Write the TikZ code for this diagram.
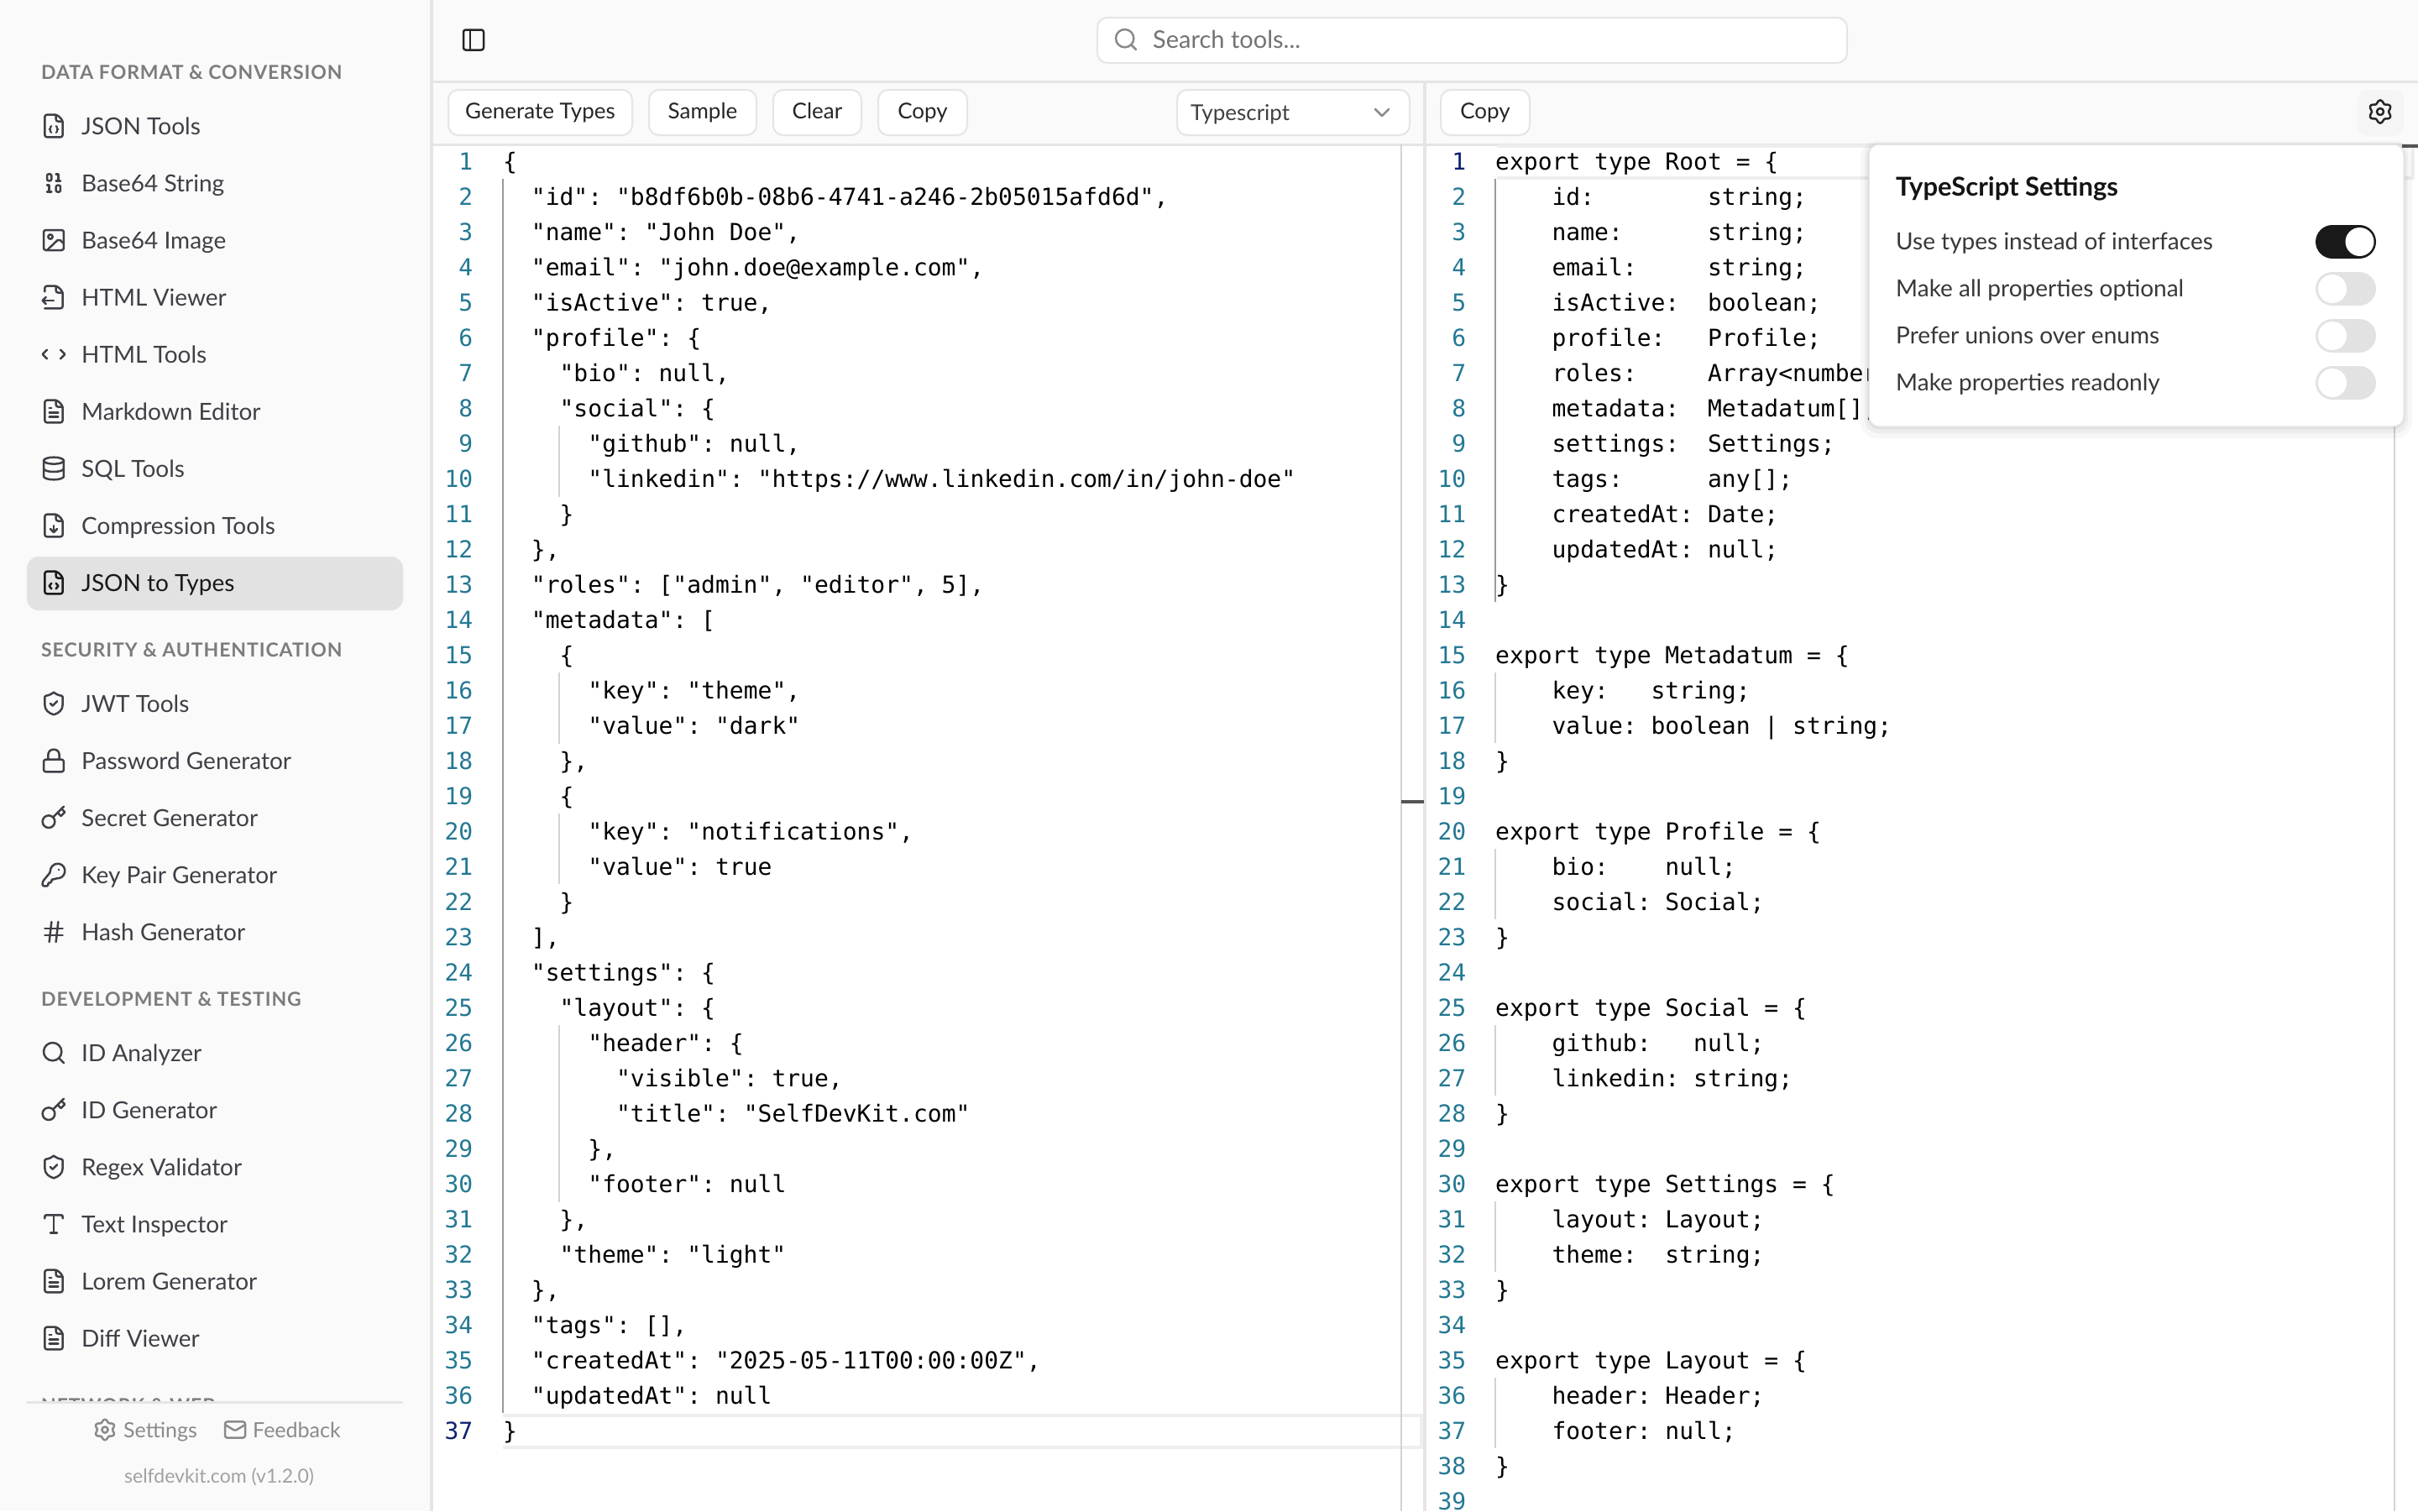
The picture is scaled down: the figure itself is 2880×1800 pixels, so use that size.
\documentclass[tikz,border=0pt]{standalone}
\usepackage{fontspec}
\usepackage{xcolor}
\setmainfont{Lato}
\newfontfamily\codefont{DejaVu Sans Mono}
\definecolor{panelbg}{HTML}{FAFAFA}
\definecolor{edgegray}{HTML}{E5E5E7}
\definecolor{itemgray}{HTML}{3F3F46}
\definecolor{headgray}{HTML}{7C7C7C}
\definecolor{footgray}{HTML}{8A8A8A}
\definecolor{numblue}{HTML}{237893}
\definecolor{numnavy}{HTML}{0B216F}
\definecolor{guidedark}{HTML}{9A9A9A}
\definecolor{guidelight}{HTML}{D3D3D3}
\definecolor{bandgray}{HTML}{EEEEEE}
\definecolor{offgray}{HTML}{E2E2E2}
\newcommand{\fileoutline}{
    \draw[rounded corners=2.67pt] (15,2) -- (4,2) -- (4,22) -- (20,22) -- (20,7) -- cycle;
    \draw[rounded corners=2.67pt] (14,2) -- (14,8) -- (20,8);
}
\tikzset{
    icon/.style={x=1.333pt,y=-1.333pt,shift={(-12,-12)},line width=2.5pt,line cap=round,line join=round},
    itemtext/.style={anchor=base west,inner sep=0pt,text=itemgray,font=\fontsize{28}{30}\selectfont},
    headtext/.style={anchor=base west,inner sep=0pt,text=headgray,font=\fontsize{23}{26}\selectfont\bfseries\addfontfeature{LetterSpace=4}},
    foottext/.style={anchor=base west,inner sep=0pt,text=footgray,font=\fontsize{25}{28}\selectfont},
    btn/.style={draw=edgegray,line width=2pt,fill=white,rounded corners=12pt,inner sep=0pt,minimum height=54pt,text height=19pt,text depth=5pt,text=black!85,font=\fontsize{26}{28}\selectfont},
    lnum/.style={anchor=base east,inner sep=0pt,text=numblue,font=\codefont\fontsize{28}{30}\selectfont},
    code/.style={anchor=base west,inner sep=0pt,text=black,font=\codefont\fontsize{28}{30}\selectfont\frenchspacing},
    poptext/.style={anchor=base west,inner sep=0pt,text=black!78,font=\fontsize{28}{30}\selectfont},
    filejson/.pic={\begin{scope}[icon]
        \fileoutline
        \draw[line width=2pt] (10,12) -- (9,13) -- (9,14.5) -- (8,15) -- (9,15.5) -- (9,17) -- (10,18);
        \draw[line width=2pt] (14,12) -- (15,13) -- (15,14.5) -- (16,15) -- (15,15.5) -- (15,17) -- (14,18);
    \end{scope}},
    filecode/.pic={\begin{scope}[icon]
        \fileoutline
        \draw (10,12.5) -- (8,15) -- (10,17.5);
        \draw (14,12.5) -- (16,15) -- (14,17.5);
    \end{scope}},
    filetext/.pic={\begin{scope}[icon]
        \fileoutline
        \draw (10,9) -- (8,9);
        \draw (16,13) -- (8,13);
        \draw (16,17) -- (8,17);
    \end{scope}},
    filedown/.pic={\begin{scope}[icon]
        \fileoutline
        \draw (12,12) -- (12,18);
        \draw (9,15) -- (12,18) -- (15,15);
    \end{scope}},
    fileback/.pic={\begin{scope}[icon]
        \draw[rounded corners=2.67pt] (4,7) -- (4,2) -- (15,2) -- (20,7) -- (20,22) -- (4,22);
        \draw[rounded corners=2.67pt] (14,2) -- (14,8) -- (20,8);
        \draw (12,15) -- (2,15);
        \draw (5,12) -- (2,15) -- (5,18);
    \end{scope}},
    binaryicon/.pic={\begin{scope}[icon]
        \draw[rounded corners=2pt] (14,14) rectangle (18,20);
        \draw[rounded corners=2pt] (6,4) rectangle (10,10);
        \draw (6,20) -- (10,20);
        \draw (14,10) -- (18,10);
        \draw (6,14) -- (8,14) -- (8,20);
        \draw (14,4) -- (16,4) -- (16,10);
    \end{scope}},
    imageicon/.pic={\begin{scope}[icon]
        \draw[rounded corners=2.67pt] (3,3) rectangle (21,21);
        \draw (9,9) circle[radius=2];
        \draw[rounded corners=2pt] (21,15) -- (16.5,11) -- (6,21);
    \end{scope}},
    codeicon/.pic={\begin{scope}[icon]
        \draw (18,16) -- (22,12) -- (18,8);
        \draw (6,8) -- (2,12) -- (6,16);
    \end{scope}},
    dbicon/.pic={\begin{scope}[icon]
        \draw (12,5) ellipse[x radius=9,y radius=3];
        \draw (3,5) -- (3,19) .. controls (3,20.7) and (7,22) .. (12,22) .. controls (17,22) and (21,20.7) .. (21,19) -- (21,5);
        \draw (3,12) .. controls (3,13.7) and (7,15) .. (12,15) .. controls (17,15) and (21,13.7) .. (21,12);
    \end{scope}},
    shieldicon/.pic={\begin{scope}[icon]
        \draw (20,13) .. controls (20,18) and (16.5,20.5) .. (12,22) .. controls (7.5,20.5) and (4,18) .. (4,13) -- (4,6) .. controls (4,5.4) and (4.4,5) .. (5,5) .. controls (7,5) and (9.5,3.8) .. (12,2) .. controls (14.5,3.8) and (17,5) .. (19,5) .. controls (19.6,5) and (20,5.4) .. (20,6) -- cycle;
        \draw (9,12) -- (11,14) -- (15,10);
    \end{scope}},
    lockicon/.pic={\begin{scope}[icon]
        \draw[rounded corners=2.67pt] (3,11) rectangle (21,22);
        \draw (7,11) -- (7,7) .. controls (7,4) and (9,2) .. (12,2) .. controls (15,2) and (17,4) .. (17,7) -- (17,11);
    \end{scope}},
    keyicon/.pic={\begin{scope}[icon]
        \draw (7.5,15.5) circle[radius=5.5];
        \draw (21,2) -- (11.4,11.6);
        \draw (15.5,7.5) -- (18.5,10.5) -- (22,7) -- (19,4);
    \end{scope}},
    keyround/.pic={\begin{scope}[icon]
        \draw[rounded corners=1.3pt] (2.6,17.4) -- (2,19) -- (2,22) -- (7,22) -- (7,19) -- (10,19) -- (10,16) -- (13,16) -- (14.4,14.9) arc[start angle=260,end angle=549,radius=8.67pt] -- cycle;
        \fill (16.5,7.5) circle[radius=1];
    \end{scope}},
    hashicon/.pic={\begin{scope}[icon]
        \draw (4,9) -- (20,9);
        \draw (4,15) -- (20,15);
        \draw (10,3) -- (8,21);
        \draw (16,3) -- (14,21);
    \end{scope}},
    typeicon/.pic={\begin{scope}[icon]
        \draw (12,4) -- (12,20);
        \draw[rounded corners=1.3pt] (4,7) -- (4,4) -- (20,4) -- (20,7);
        \draw (9,20) -- (15,20);
    \end{scope}},
    searchicon/.pic={\begin{scope}[icon]
        \draw (11,11) circle[radius=8];
        \draw (21,21) -- (16.66,16.66);
    \end{scope}},
    gearicon/.pic={\begin{scope}[icon]
        \draw plot[smooth cycle,domain=0:352,samples=45] ({12+(8.9-1.35*cos(6*\x))*cos(\x)},{12+(8.9-1.35*cos(6*\x))*sin(\x)});
        \draw (12,12) circle[radius=3];
    \end{scope}},
    mailicon/.pic={\begin{scope}[icon]
        \draw[rounded corners=2.67pt] (2,4) rectangle (22,20);
        \draw[rounded corners=1.5pt] (22,7) -- (12,13) -- (2,7);
    \end{scope}},
    panelicon/.pic={\begin{scope}[icon]
        \draw[rounded corners=2.67pt] (3,3) rectangle (21,21);
        \draw (9,3) -- (9,21);
    \end{scope}},
    chevronicon/.pic={\begin{scope}[icon]
        \draw (6,9) -- (12,15) -- (18,9);
    \end{scope}},
}
\begin{document}
\begin{tikzpicture}[x=1pt,y=-1pt]
    \useasboundingbox (0,0) rectangle (2880,1800);
    \fill[panelbg] (0,0) rectangle (2880,1800);
    % editor panes and borders
    \fill[white] (516,172) rectangle (2880,1800);
    \draw[edgegray,line width=4pt] (514,0) -- (514,1800);
    \draw[edgegray,line width=3pt] (516,97) -- (2880,97);
    \draw[edgegray,line width=3pt] (516,172) -- (2880,172);
    \draw[edgegray,line width=4pt] (1697,97) -- (1697,1800);
    % sidebar
    \fill[offgray] (32,663) [rounded corners=14pt] rectangle (480,727);
    \node[headtext] (headdata) at (49,94.5) {DATA FORMAT \& CONVERSION};
    \pic[color=itemgray] at (64,150) {filejson};
    \node[itemtext] (jsontools) at (97,160.5) {JSON Tools};
    \pic[color=itemgray] at (64,218) {binaryicon};
    \node[itemtext] (basestring) at (97,228.5) {Base64 String};
    \pic[color=itemgray] at (64,286) {imageicon};
    \node[itemtext] (baseimage) at (97,296.5) {Base64 Image};
    \pic[color=itemgray] at (64,354) {fileback};
    \node[itemtext] (htmlviewer) at (97,364.5) {HTML Viewer};
    \pic[color=itemgray] at (64,422) {codeicon};
    \node[itemtext] (htmltools) at (97,432.5) {HTML Tools};
    \pic[color=itemgray] at (64,490) {filetext};
    \node[itemtext] (markdown) at (97,500.5) {Markdown Editor};
    \pic[color=itemgray] at (64,558) {dbicon};
    \node[itemtext] (sqltools) at (97,568.5) {SQL Tools};
    \pic[color=itemgray] at (64,626) {filedown};
    \node[itemtext] (compression) at (97,636.5) {Compression Tools};
    \pic[color=black!90] at (64,694) {filecode};
    \node[itemtext,text=black!90] (jsontypes) at (97,704.5) {JSON to Types};
    \node[headtext] (headsecurity) at (49,782.5) {SECURITY \& AUTHENTICATION};
    \pic[color=itemgray] at (64,838) {shieldicon};
    \node[itemtext] (jwttools) at (97,848.5) {JWT Tools};
    \pic[color=itemgray] at (64,906) {lockicon};
    \node[itemtext] (password) at (97,916.5) {Password Generator};
    \pic[color=itemgray] at (64,974) {keyicon};
    \node[itemtext] (secret) at (97,984.5) {Secret Generator};
    \pic[color=itemgray] at (64,1042) {keyround};
    \node[itemtext] (keypair) at (97,1052.5) {Key Pair Generator};
    \pic[color=itemgray] at (64,1110) {hashicon};
    \node[itemtext] (hashgen) at (97,1120.5) {Hash Generator};
    \node[headtext] (headdev) at (49,1198.5) {DEVELOPMENT \& TESTING};
    \pic[color=itemgray] at (64,1254) {searchicon};
    \node[itemtext] (idanalyzer) at (97,1264.5) {ID Analyzer};
    \pic[color=itemgray] at (64,1322) {keyicon};
    \node[itemtext] (idgen) at (97,1332.5) {ID Generator};
    \pic[color=itemgray] at (64,1390) {shieldicon};
    \node[itemtext] (regex) at (97,1400.5) {Regex Validator};
    \pic[color=itemgray] at (64,1458) {typeicon};
    \node[itemtext] (inspector) at (97,1468.5) {Text Inspector};
    \pic[color=itemgray] at (64,1526) {filetext};
    \node[itemtext] (lorem) at (97,1536.5) {Lorem Generator};
    \pic[color=itemgray] at (64,1594) {filetext};
    \node[itemtext] (diffviewer) at (97,1604.5) {Diff Viewer};
    \begin{scope}
        \clip (32,1640) rectangle (480,1669);
        \node[headtext] (headnet) at (49,1682.5) {NETWORK \& WEB};
    \end{scope}
    \draw[edgegray,line width=3pt] (32,1670) -- (480,1670);
    \pic[color=footgray,scale=.9] at (125,1703) {gearicon};
    \node[foottext] (settingslink) at (147,1712) {Settings};
    \pic[color=footgray,scale=.9] at (280,1703) {mailicon};
    \node[foottext] (feedbacklink) at (301,1712) {Feedback};
    \node[foottext,text=footgray!80,font=\fontsize{23}{26}\selectfont] (version) at (148,1766) {selfdevkit.com (v1.2.0)};
    % top bar
    \pic[color=black!85] at (564,47.5) {panelicon};
    \node[btn,minimum width=893pt,minimum height=54pt] (searchbox) at (1753.5,48) {};
    \pic[color=footgray] at (1341,47) {searchicon};
    \node[foottext,text=black!55,font=\fontsize{29}{30}\selectfont] (searchtext) at (1373,57) {Search tools...};
    % left toolbar
    \node[btn,minimum width=219pt] (genbtn) at (643.5,134) {Generate Types};
    \node[btn,minimum width=128pt] (samplebtn) at (837,134) {Sample};
    \node[btn,minimum width=105pt] (clearbtn) at (973.5,134) {Clear};
    \node[btn,minimum width=106pt] (copybtn) at (1099,134) {Copy};
    \node[btn,minimum width=277pt] (langselect) at (1540.5,134) {};
    \node[foottext,text=black!75,font=\fontsize{26}{28}\selectfont] (langtext) at (1418,143) {Typescript};
    \pic[color=footgray] at (1646,134) {chevronicon};
    % right toolbar
    \node[btn,minimum width=106pt] (copyright) at (1769,134) {Copy};
    \fill[black!4,rounded corners=12pt] (2808,107) rectangle (2863,162);
    \pic[color=black!85] at (2835,133) {gearicon};
    % current line bands, rulers and guides
    \draw[bandgray,line width=4pt] (599,1686) -- (1693,1686) -- (1693,1724) -- (599,1724);
    \draw[bandgray,line width=4pt] (1783,174) -- (2874,174) -- (2874,212) -- (1783,212);
    \draw[guidelight,line width=2pt] (1669,172) -- (1669,1800);
    \draw[black!67,line width=4pt] (1669,955) -- (1696,955);
    \draw[guidelight,line width=2pt] (2852,172) -- (2852,1800);
    \draw[black!67,line width=4pt] (2861,174) -- (2880,174);
    \draw[guidedark,line width=2.5pt] (599,213) -- (599,1683);
    \draw[guidelight,line width=2.5pt] (666,507) -- (666,592);
    \draw[guidelight,line width=2.5pt] (666,801) -- (666,886);
    \draw[guidelight,line width=2.5pt] (666,969) -- (666,1053);
    \draw[guidelight,line width=2.5pt] (666,1221) -- (666,1432);
    \draw[guidedark,line width=2.5pt] (1781,213) -- (1781,717);
    \draw[guidelight,line width=2pt] (1781,801) -- (1781,885);
    \draw[guidelight,line width=2pt] (1781,1011) -- (1781,1095);
    \draw[guidelight,line width=2pt] (1781,1221) -- (1781,1305);
    \draw[guidelight,line width=2pt] (1781,1431) -- (1781,1515);
    \draw[guidelight,line width=2pt] (1781,1641) -- (1781,1725);
    % left editor
    \node[lnum] (lnum1) at (563.5,202.5) {1};
    \node[code] (lcode1) at (599,202.5) {\{};
    \node[lnum] (lnum2) at (563.5,244.5) {2};
    \node[code] (lcode2) at (632.7,244.5) {"id": "b8df6b0b-08b6-4741-a246-2b05015afd6d",};
    \node[lnum] (lnum3) at (563.5,286.5) {3};
    \node[code] (lcode3) at (632.7,286.5) {"name": "John Doe",};
    \node[lnum] (lnum4) at (563.5,328.5) {4};
    \node[code] (lcode4) at (632.7,328.5) {"email": "john.doe@example.com",};
    \node[lnum] (lnum5) at (563.5,370.5) {5};
    \node[code] (lcode5) at (632.7,370.5) {"isActive": true,};
    \node[lnum] (lnum6) at (563.5,412.5) {6};
    \node[code] (lcode6) at (632.7,412.5) {"profile": \{};
    \node[lnum] (lnum7) at (563.5,454.5) {7};
    \node[code] (lcode7) at (666.4,454.5) {"bio": null,};
    \node[lnum] (lnum8) at (563.5,496.5) {8};
    \node[code] (lcode8) at (666.4,496.5) {"social": \{};
    \node[lnum] (lnum9) at (563.5,538.5) {9};
    \node[code] (lcode9) at (700.2,538.5) {"github": null,};
    \node[lnum] (lnum10) at (563.5,580.5) {10};
    \node[code] (lcode10) at (700.2,580.5) {"linkedin": "https://www.linkedin.com/in/john-doe"};
    \node[lnum] (lnum11) at (563.5,622.5) {11};
    \node[code] (lcode11) at (666.4,622.5) {\}};
    \node[lnum] (lnum12) at (563.5,664.5) {12};
    \node[code] (lcode12) at (632.7,664.5) {\},};
    \node[lnum] (lnum13) at (563.5,706.5) {13};
    \node[code] (lcode13) at (632.7,706.5) {"roles": ["admin", "editor", 5],};
    \node[lnum] (lnum14) at (563.5,748.5) {14};
    \node[code] (lcode14) at (632.7,748.5) {"metadata": [};
    \node[lnum] (lnum15) at (563.5,790.5) {15};
    \node[code] (lcode15) at (666.4,790.5) {\{};
    \node[lnum] (lnum16) at (563.5,832.5) {16};
    \node[code] (lcode16) at (700.2,832.5) {"key": "theme",};
    \node[lnum] (lnum17) at (563.5,874.5) {17};
    \node[code] (lcode17) at (700.2,874.5) {"value": "dark"};
    \node[lnum] (lnum18) at (563.5,916.5) {18};
    \node[code] (lcode18) at (666.4,916.5) {\},};
    \node[lnum] (lnum19) at (563.5,958.5) {19};
    \node[code] (lcode19) at (666.4,958.5) {\{};
    \node[lnum] (lnum20) at (563.5,1000.5) {20};
    \node[code] (lcode20) at (700.2,1000.5) {"key": "notifications",};
    \node[lnum] (lnum21) at (563.5,1042.5) {21};
    \node[code] (lcode21) at (700.2,1042.5) {"value": true};
    \node[lnum] (lnum22) at (563.5,1084.5) {22};
    \node[code] (lcode22) at (666.4,1084.5) {\}};
    \node[lnum] (lnum23) at (563.5,1126.5) {23};
    \node[code] (lcode23) at (632.7,1126.5) {],};
    \node[lnum] (lnum24) at (563.5,1168.5) {24};
    \node[code] (lcode24) at (632.7,1168.5) {"settings": \{};
    \node[lnum] (lnum25) at (563.5,1210.5) {25};
    \node[code] (lcode25) at (666.4,1210.5) {"layout": \{};
    \node[lnum] (lnum26) at (563.5,1252.5) {26};
    \node[code] (lcode26) at (700.2,1252.5) {"header": \{};
    \node[lnum] (lnum27) at (563.5,1294.5) {27};
    \node[code] (lcode27) at (733.9,1294.5) {"visible": true,};
    \node[lnum] (lnum28) at (563.5,1336.5) {28};
    \node[code] (lcode28) at (733.9,1336.5) {"title": "SelfDevKit.com"};
    \node[lnum] (lnum29) at (563.5,1378.5) {29};
    \node[code] (lcode29) at (700.2,1378.5) {\},};
    \node[lnum] (lnum30) at (563.5,1420.5) {30};
    \node[code] (lcode30) at (700.2,1420.5) {"footer": null};
    \node[lnum] (lnum31) at (563.5,1462.5) {31};
    \node[code] (lcode31) at (666.4,1462.5) {\},};
    \node[lnum] (lnum32) at (563.5,1504.5) {32};
    \node[code] (lcode32) at (666.4,1504.5) {"theme": "light"};
    \node[lnum] (lnum33) at (563.5,1546.5) {33};
    \node[code] (lcode33) at (632.7,1546.5) {\},};
    \node[lnum] (lnum34) at (563.5,1588.5) {34};
    \node[code] (lcode34) at (632.7,1588.5) {"tags": [],};
    \node[lnum] (lnum35) at (563.5,1630.5) {35};
    \node[code] (lcode35) at (632.7,1630.5) {"createdAt": "2025-05-11T00:00:00Z",};
    \node[lnum] (lnum36) at (563.5,1672.5) {36};
    \node[code] (lcode36) at (632.7,1672.5) {"updatedAt": null};
    \node[lnum,text=numnavy] (lnum37) at (563.5,1714.5) {37};
    \node[code] (lcode37) at (599,1714.5) {\}};
    % right editor
    \node[lnum,text=numnavy] (rnum1) at (1746.5,202.5) {1};
    \node[code] (rcode1) at (1781,202.5) {export type Root = \{};
    \node[lnum] (rnum2) at (1746.5,244.5) {2};
    \node[code] (rcode2) at (1848.4,244.5) {id:~~~~~~~~string;};
    \node[lnum] (rnum3) at (1746.5,286.5) {3};
    \node[code] (rcode3) at (1848.4,286.5) {name:~~~~~~string;};
    \node[lnum] (rnum4) at (1746.5,328.5) {4};
    \node[code] (rcode4) at (1848.4,328.5) {email:~~~~~string;};
    \node[lnum] (rnum5) at (1746.5,370.5) {5};
    \node[code] (rcode5) at (1848.4,370.5) {isActive:~~boolean;};
    \node[lnum] (rnum6) at (1746.5,412.5) {6};
    \node[code] (rcode6) at (1848.4,412.5) {profile:~~~Profile;};
    \node[lnum] (rnum7) at (1746.5,454.5) {7};
    \node[code] (rcode7) at (1848.4,454.5) {roles:~~~~~Array<number};
    \node[lnum] (rnum8) at (1746.5,496.5) {8};
    \node[code] (rcode8) at (1848.4,496.5) {metadata:~~Metadatum[];};
    \node[lnum] (rnum9) at (1746.5,538.5) {9};
    \node[code] (rcode9) at (1848.4,538.5) {settings:~~Settings;};
    \node[lnum] (rnum10) at (1746.5,580.5) {10};
    \node[code] (rcode10) at (1848.4,580.5) {tags:~~~~~~any[];};
    \node[lnum] (rnum11) at (1746.5,622.5) {11};
    \node[code] (rcode11) at (1848.4,622.5) {createdAt: Date;};
    \node[lnum] (rnum12) at (1746.5,664.5) {12};
    \node[code] (rcode12) at (1848.4,664.5) {updatedAt: null;};
    \node[lnum] (rnum13) at (1746.5,706.5) {13};
    \node[code] (rcode13) at (1781,706.5) {\}};
    \node[lnum] (rnum14) at (1746.5,748.5) {14};
    \node[lnum] (rnum15) at (1746.5,790.5) {15};
    \node[code] (rcode15) at (1781,790.5) {export type Metadatum = \{};
    \node[lnum] (rnum16) at (1746.5,832.5) {16};
    \node[code] (rcode16) at (1848.4,832.5) {key:~~~string;};
    \node[lnum] (rnum17) at (1746.5,874.5) {17};
    \node[code] (rcode17) at (1848.4,874.5) {value: boolean | string;};
    \node[lnum] (rnum18) at (1746.5,916.5) {18};
    \node[code] (rcode18) at (1781,916.5) {\}};
    \node[lnum] (rnum19) at (1746.5,958.5) {19};
    \node[lnum] (rnum20) at (1746.5,1000.5) {20};
    \node[code] (rcode20) at (1781,1000.5) {export type Profile = \{};
    \node[lnum] (rnum21) at (1746.5,1042.5) {21};
    \node[code] (rcode21) at (1848.4,1042.5) {bio:~~~~null;};
    \node[lnum] (rnum22) at (1746.5,1084.5) {22};
    \node[code] (rcode22) at (1848.4,1084.5) {social: Social;};
    \node[lnum] (rnum23) at (1746.5,1126.5) {23};
    \node[code] (rcode23) at (1781,1126.5) {\}};
    \node[lnum] (rnum24) at (1746.5,1168.5) {24};
    \node[lnum] (rnum25) at (1746.5,1210.5) {25};
    \node[code] (rcode25) at (1781,1210.5) {export type Social = \{};
    \node[lnum] (rnum26) at (1746.5,1252.5) {26};
    \node[code] (rcode26) at (1848.4,1252.5) {github:~~~null;};
    \node[lnum] (rnum27) at (1746.5,1294.5) {27};
    \node[code] (rcode27) at (1848.4,1294.5) {linkedin: string;};
    \node[lnum] (rnum28) at (1746.5,1336.5) {28};
    \node[code] (rcode28) at (1781,1336.5) {\}};
    \node[lnum] (rnum29) at (1746.5,1378.5) {29};
    \node[lnum] (rnum30) at (1746.5,1420.5) {30};
    \node[code] (rcode30) at (1781,1420.5) {export type Settings = \{};
    \node[lnum] (rnum31) at (1746.5,1462.5) {31};
    \node[code] (rcode31) at (1848.4,1462.5) {layout: Layout;};
    \node[lnum] (rnum32) at (1746.5,1504.5) {32};
    \node[code] (rcode32) at (1848.4,1504.5) {theme:~~string;};
    \node[lnum] (rnum33) at (1746.5,1546.5) {33};
    \node[code] (rcode33) at (1781,1546.5) {\}};
    \node[lnum] (rnum34) at (1746.5,1588.5) {34};
    \node[lnum] (rnum35) at (1746.5,1630.5) {35};
    \node[code] (rcode35) at (1781,1630.5) {export type Layout = \{};
    \node[lnum] (rnum36) at (1746.5,1672.5) {36};
    \node[code] (rcode36) at (1848.4,1672.5) {header: Header;};
    \node[lnum] (rnum37) at (1746.5,1714.5) {37};
    \node[code] (rcode37) at (1848.4,1714.5) {footer: null;};
    \node[lnum] (rnum38) at (1746.5,1756.5) {38};
    \node[code] (rcode38) at (1781,1756.5) {\}};
    \node[lnum] (rnum39) at (1746.5,1798.5) {39};
    % settings popover
    \fill[black,opacity=.03,rounded corners=20pt] (2216,168) rectangle (2873,522);
    \fill[black,opacity=.04,rounded corners=16pt] (2221,170) rectangle (2868,516);
    \fill[black,opacity=.05,rounded corners=14pt] (2224,172) rectangle (2865,511);
    \filldraw[draw=edgegray,fill=white,rounded corners=12pt,line width=1.5pt] (2226,172) rectangle (2863,508);
    \node[poptext,text=black!92,font=\fontsize{31}{34}\selectfont\bfseries] (poptitle) at (2258,233) {TypeScript Settings};
    \node[poptext] (optiontypes) at (2258,297) {Use types instead of interfaces};
    \node[poptext] (optionoptional) at (2258,353) {Make all properties optional};
    \node[poptext] (optionunions) at (2258,409) {Prefer unions over enums};
    \node[poptext] (optionreadonly) at (2258,465) {Make properties readonly};
    \fill[black!90,rounded corners=20pt] (2758,268) rectangle (2830,308);
    \fill[white] (2810.5,288) circle (17);
    \fill[offgray,rounded corners=20pt] (2758,324) rectangle (2830,364);
    \fill[white] (2778,344) circle (17);
    \fill[offgray,rounded corners=20pt] (2758,380) rectangle (2830,420);
    \fill[white] (2778,400) circle (17);
    \fill[offgray,rounded corners=20pt] (2758,436) rectangle (2830,476);
    \fill[white] (2778,456) circle (17);
\end{tikzpicture}
\end{document}
